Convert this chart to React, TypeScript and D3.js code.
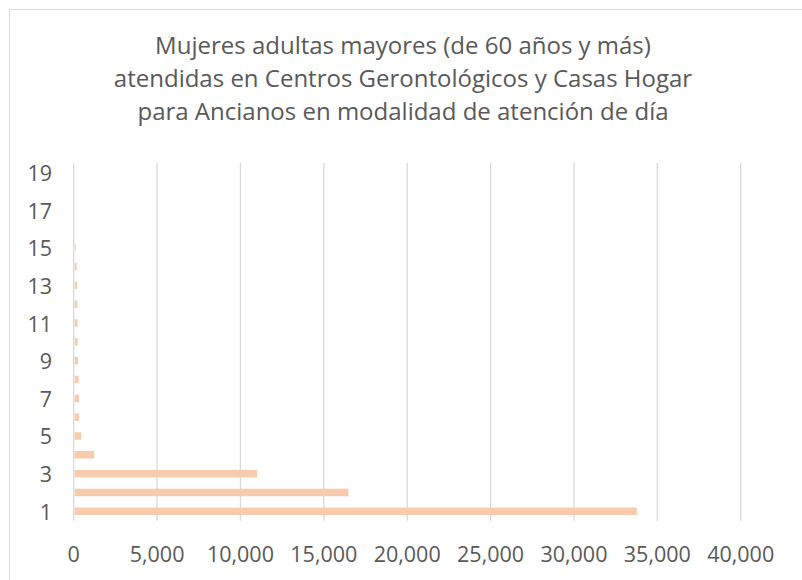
import React from "react";
import * as d3 from "d3";

const categories: number[] = [1, 2, 3, 4, 5, 6, 7, 8, 9, 10, 11, 12, 13, 14, 15, 16, 17, 18, 19];
const values: number[] = [33770, 16480, 11000, 1230, 450, 320, 320, 300, 260, 240, 230, 220, 200, 180, 120, 30, 0, 0, 0];
const xTicks: number[] = [0, 5000, 10000, 15000, 20000, 25000, 30000, 35000, 40000];
const yTickLabels: number[] = [1, 3, 5, 7, 9, 11, 13, 15, 17, 19];
const titleLines: string[] = [
  "Mujeres adultas mayores (de 60 años y más)",
  "atendidas en Centros Gerontológicos y Casas Hogar",
  "para Ancianos en modalidad de atención de día",
];

const W = 802;
const H = 580;
const FONT = "'Open Sans', 'Noto Sans', sans-serif";
const TEXT = "#595959";

export default function App() {
  const left = 73.7;
  const right = 740.7;
  const top = 163;
  const bottom = 520.7;
  const x = d3.scaleLinear().domain([0, 40000]).range([left, right]);
  const y = d3
    .scaleBand<number>()
    .domain(categories.slice().reverse())
    .range([top, bottom])
    .paddingInner(0.6)
    .paddingOuter(0.3);
  const fmt = d3.format(",");
  return (
    <svg
      width={W}
      height={H}
      style={{ position: "absolute", left: 0, top: 0, background: "#fff" }}
    >
      <rect x={9.5} y={9.5} width={W} height={H} fill="#fff" stroke="#D9D9D9" strokeWidth={1} />
      {titleLines.map((t, i) => (
        <text
          key={i}
          x={403}
          y={54 + i * 33}
          textAnchor="middle"
          fontFamily={FONT}
          fontSize={24}
          fill={TEXT}
        >
          {t}
        </text>
      ))}
      {xTicks.map((t) => (
        <line key={t} x1={x(t)} x2={x(t)} y1={top} y2={bottom} stroke="#D9D9D9" strokeWidth={1.3} />
      ))}
      {categories.map((c, i) => (
        <rect
          key={c}
          x={x(0) + 1}
          y={y(c)!}
          width={Math.max(0, x(values[i]) - x(0) - 1)}
          height={y.bandwidth()}
          fill="#F8CBAD"
        />
      ))}
      {xTicks.map((t) => (
        <text
          key={t}
          x={x(t)}
          y={553}
          textAnchor="middle"
          dominantBaseline="central"
          fontFamily={FONT}
          fontSize={21.5}
          fill={TEXT}
        >
          {fmt(t)}
        </text>
      ))}
      {yTickLabels.map((c) => (
        <text
          key={c}
          x={52}
          y={y(c)! + y.bandwidth() / 2}
          textAnchor="end"
          dominantBaseline="central"
          fontFamily={FONT}
          fontSize={21.5}
          fill={TEXT}
        >
          {c}
        </text>
      ))}
    </svg>
  );
}
